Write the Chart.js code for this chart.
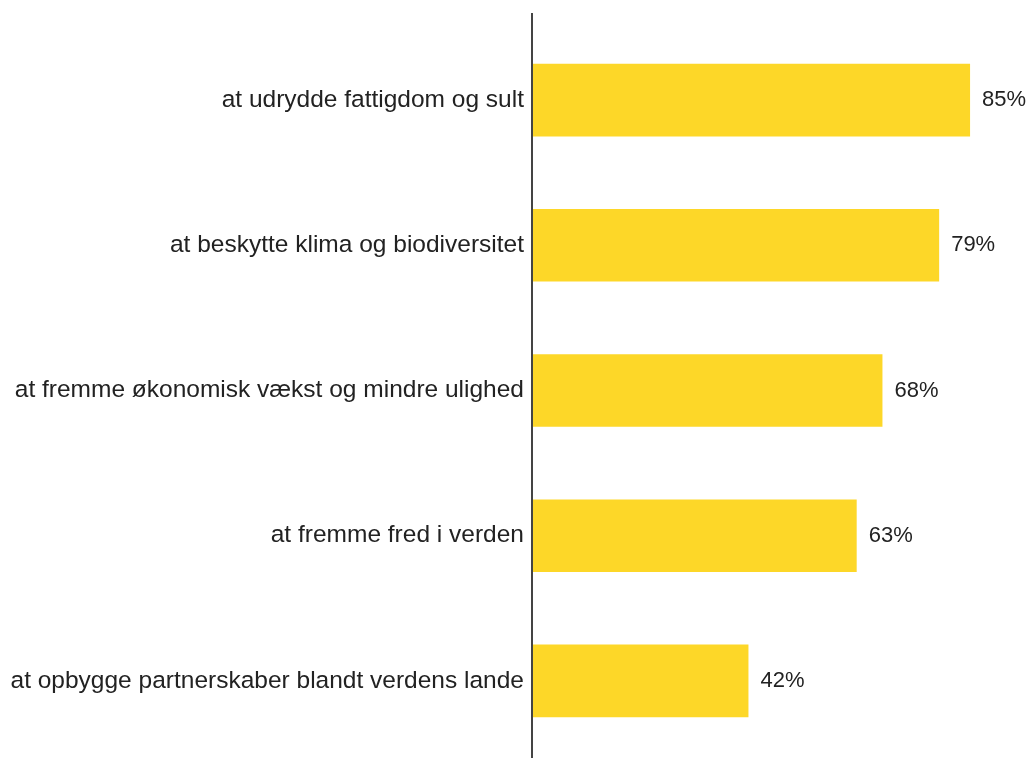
<!DOCTYPE html>
<html>
<head>
<meta charset="utf-8">
<script src="https://cdn.jsdelivr.net/npm/chart.js@4/dist/chart.umd.min.js"></script>
<style>
  html, body { margin: 0; padding: 0; background: #fff; }
  #wrap { width: 1026px; height: 758px; }
</style>
</head>
<body>
<div id="wrap"><canvas id="chart"></canvas></div>
<script>
  // --- DATA ---
  const categories = [
    'at udrydde fattigdom og sult',
    'at beskytte klima og biodiversitet',
    'at fremme økonomisk vækst og mindre ulighed',
    'at fremme fred i verden',
    'at opbygge partnerskaber blandt verdens lande'
  ];
  const values = [85, 79, 68, 63, 42];
  const valueSuffix = '%';

  const FONT = '"Liberation Sans", Arial, Helvetica, sans-serif';

  // value labels right of each bar
  const valueLabels = {
    id: 'valueLabels',
    afterDatasetsDraw(chart) {
      const ctx = chart.ctx;
      const meta = chart.getDatasetMeta(0);
      ctx.save();
      ctx.font = `22px ${FONT}`;
      ctx.fillStyle = '#222';
      ctx.textAlign = 'left';
      ctx.textBaseline = 'middle';
      meta.data.forEach((bar, i) => {
        ctx.fillText(values[i] + valueSuffix, bar.x + 12, bar.y);
      });
      ctx.restore();
    }
  };

  // the axis line runs past the plot area, up to near the top and down to the bottom
  const axisLine = {
    id: 'axisLine',
    afterDraw(chart) {
      const ctx = chart.ctx;
      const x = chart.scales.x.getPixelForValue(0);
      ctx.save();
      ctx.strokeStyle = '#444';
      ctx.lineWidth = 2;
      ctx.beginPath();
      ctx.moveTo(x, 13);
      ctx.lineTo(x, chart.height);
      ctx.stroke();
      ctx.restore();
    }
  };

  new Chart(document.getElementById('chart'), {
    type: 'bar',
    data: {
      labels: categories,
      datasets: [{
        data: values,
        backgroundColor: '#FDD728',
        borderWidth: 0,
        categoryPercentage: 1,
        barPercentage: 0.5
      }]
    },
    options: {
      indexAxis: 'y',
      responsive: true,
      maintainAspectRatio: false,
      animation: false,
      layout: { padding: { top: 27.5, bottom: 4.5, left: 0, right: 8 } },
      plugins: { legend: { display: false }, tooltip: { enabled: false } },
      scales: {
        x: {
          min: 0, max: 94.3,
          display: false
        },
        y: {
          grid: { display: false, drawTicks: false },
          border: { display: false },
          ticks: {
            color: '#222',
            padding: 8,
            font: { family: FONT, size: 24.5 }
          },
          afterFit(scale) {
            scale.width = 532;
            // no extra room for half label heights, the layout padding decides
            scale.paddingTop = 0;
            scale.paddingBottom = 0;
          }
        }
      }
    },
    plugins: [valueLabels, axisLine]
  });
</script>
</body>
</html>
